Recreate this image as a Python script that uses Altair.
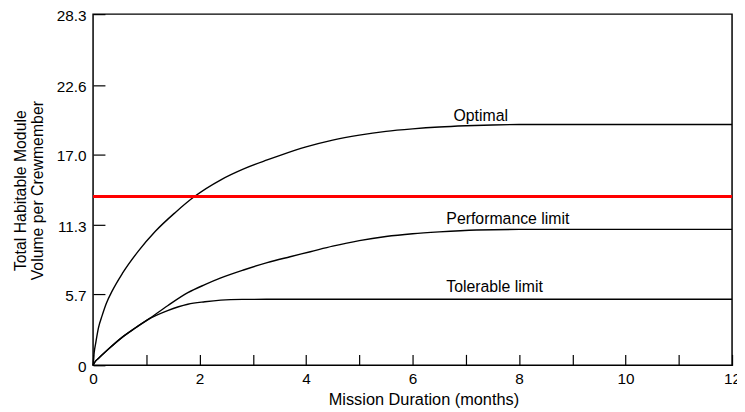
import altair as alt
import pandas as pd

# ---- data ----
opt_x = [0, 0.02, 0.05, 0.1, 0.17, 0.25, 0.36, 0.55, 0.85, 1.17, 1.54, 1.91, 2.4, 2.84, 3.27, 3.5, 4.0, 4.5, 5.0, 5.5, 6.0, 6.5, 7.0, 7.5, 8.0, 12.0]
opt_y = [0, 1.0, 1.8, 3.0, 4.0, 5.0, 6.0, 7.4, 9.2, 10.8, 12.3, 13.62, 14.95, 15.85, 16.55, 16.9, 17.6, 18.15, 18.55, 18.85, 19.05, 19.2, 19.3, 19.37, 19.4, 19.4]

perf_x = [0, 0.05, 0.1, 0.3, 0.545, 0.79, 1.04, 1.4, 1.78, 2.1, 2.4, 2.84, 3.27, 3.7, 4.08, 4.5, 5.0, 5.5, 6.0, 6.5, 7.2, 8.0, 12.0]
perf_y = [0, 0.35, 0.55, 1.35, 2.25, 3.0, 3.72, 4.8, 5.85, 6.5, 7.04, 7.7, 8.28, 8.75, 9.15, 9.6, 10.05, 10.38, 10.6, 10.75, 10.9, 10.95, 10.95]

tol_x = [0, 0.05, 0.1, 0.3, 0.545, 0.79, 1.04, 1.4, 1.78, 2.1, 2.4, 2.8, 3.27, 12.0]
tol_y = [0, 0.35, 0.55, 1.35, 2.25, 3.0, 3.7, 4.4, 4.92, 5.12, 5.25, 5.31, 5.32, 5.32]

red_level = [13.6]

label_text = ["Optimal", "Performance limit", "Tolerable limit"]
label_x = [7.28, 7.79, 7.54]
label_y = [20.1, 11.75, 6.27]

x_ticks = list(range(0, 13))
y_ticks = [0, 5.7, 11.3, 17.0, 22.6, 28.3]

FONT = "Liberation Sans"

rows = []
for name, xs, ys in [("Optimal", opt_x, opt_y), ("Performance limit", perf_x, perf_y), ("Tolerable limit", tol_x, tol_y)]:
    for a, b in zip(xs, ys):
        rows.append({"series": name, "month": a, "volume": b})
curves = pd.DataFrame(rows)
red_df = pd.DataFrame({"level": red_level})
labels_df = pd.DataFrame({"label": label_text, "month": label_x, "volume": label_y})

x_scale = alt.Scale(domain=[0, 12], nice=False, zero=False)
y_scale = alt.Scale(domain=[0, 28.3], nice=False, zero=False)

x_axis = alt.Axis(
    values=x_ticks, title="Mission Duration (months)", format="d",
    labelExpr="datum.value % 2 == 0 ? datum.label : ''",
    offset=-11, tickSize=11, domain=False, grid=False,
    labelPadding=6, labelFlush=False, labelOverlap=False,
    tickColor="black", tickWidth=1.2, labelColor="black",
    labelFont=FONT, labelFontSize=15.5, titleFont=FONT, titleFontSize=16.5,
    titleFontWeight="normal", titleColor="black",
    titleBaseline="top", titleY=38, titleX=334,
)
y_axis = alt.Axis(
    values=y_ticks, title=["Total Habitable Module", "Volume per Crewmember"],
    labelExpr="datum.value == 0 ? '0' : format(datum.value, '.1f')",
    offset=-12, tickSize=12, domain=False, grid=False,
    labelPadding=7, labelOffset=1.5, labelFlush=False, labelOverlap=False,
    tickColor="black", tickWidth=1.2, labelColor="black",
    labelFont=FONT, labelFontSize=15.5, titleFont=FONT, titleFontSize=16,
    titleFontWeight="normal", titleColor="black",
    titleBaseline="middle", titleLineHeight=17, titleX=-85.5, titleY=178,
    titleAngle=270,
)

lines = alt.Chart(curves).mark_line(color="black", strokeWidth=1.4, interpolate="monotone").encode(
    x=alt.X("month:Q", scale=x_scale, axis=x_axis),
    y=alt.Y("volume:Q", scale=y_scale, axis=y_axis),
    detail="series:N",
)

red = alt.Chart(red_df).mark_rule(color="#ff0000", strokeWidth=3).encode(
    y=alt.Y("level:Q", scale=y_scale, axis=y_axis)
)

texts = alt.Chart(labels_df).mark_text(
    font=FONT, fontSize=16, color="black", align="center", baseline="middle"
).encode(
    x=alt.X("month:Q", scale=x_scale, axis=x_axis),
    y=alt.Y("volume:Q", scale=y_scale, axis=y_axis),
    text="label:N",
)

chart = alt.layer(lines, red, texts).properties(
    width=646, height=355,
    autosize=alt.AutoSizeParams(type="none"),
    padding={"left": 86, "top": 4, "right": 5, "bottom": 42},
    background="white",
).configure_view(stroke="black", strokeWidth=1.5).configure_axis(
    labelFont=FONT, labelFontSize=15.5, titleFont=FONT, titleFontSize=16,
    labelColor="black", titleColor="black", titleFontWeight="normal",
)

chart.save("out.html", embed_options={"renderer": "svg", "actions": False})
